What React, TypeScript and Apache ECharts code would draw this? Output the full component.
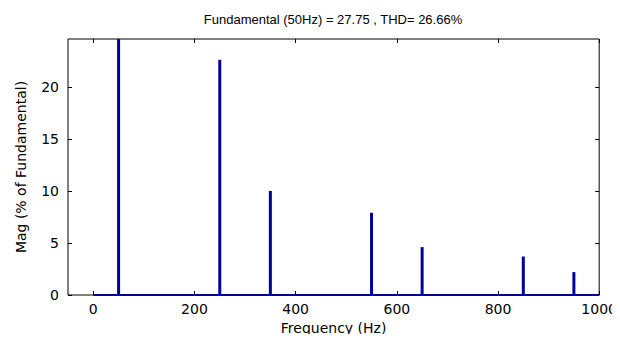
import React, { useEffect, useRef } from "react";
import * as echarts from "echarts";

const titleText = "Fundamental (50Hz) = 27.75 , THD= 26.66%";
const xName = "Frequency (Hz)";
const yName = "Mag (% of Fundamental)";
const frequencies = [50, 250, 350, 550, 650, 850, 950];
const magnitudes = [100, 22.6, 10.0, 7.9, 4.6, 3.7, 2.2];
const baselineX = [0, 1000];
const xTicks = [0, 200, 400, 600, 800, 1000];
const yTicks = [0, 5, 10, 15, 20];

const FONT = "'Liberation Sans', Arial, sans-serif";
const AXFONT = "'DejaVu Sans', sans-serif";
const BLUE = "#00009c";

export default function App() {
  const ref = useRef<HTMLDivElement>(null);
  useEffect(() => {
    if (!ref.current) return;
    const chart = echarts.init(ref.current, undefined, { renderer: "svg" });
    const tickStyle = { inside: true, length: 4, lineStyle: { color: "#000", width: 1 } };
    const fmt = (v: number) => String(v);
    chart.setOption({
      animation: false,
      backgroundColor: "#fff",
      textStyle: { fontFamily: FONT },
      grid: {
        left: 68,
        top: 39,
        right: 19,
        bottom: 47,
        show: true,
        borderColor: "#000",
        borderWidth: 1,
        backgroundColor: "#fff",
      },
      graphic: [
        {
          type: "text",
          x: 333,
          y: 19,
          style: {
            text: titleText,
            fill: "#000",
            font: `13px ${FONT}`,
            textAlign: "center",
            textVerticalAlign: "middle",
          },
        },
      ],
      xAxis: [
        {
          type: "value",
          min: -50,
          max: 1000,
          position: "bottom",
          name: xName,
          nameLocation: "middle",
          nameGap: 25,
          nameTextStyle: { color: "#000", fontSize: 14, fontFamily: AXFONT },
          axisLine: { show: false, onZero: false },
          axisTick: { ...tickStyle, customValues: xTicks },
          axisLabel: { customValues: xTicks, formatter: fmt, color: "#000", fontSize: 14, fontFamily: AXFONT, margin: 7 },
          splitLine: { show: false },
        },
        {
          type: "value",
          min: -50,
          max: 1000,
          position: "top",
          axisLine: { show: false, onZero: false },
          axisTick: { ...tickStyle, customValues: xTicks },
          axisLabel: { show: false, customValues: xTicks },
          splitLine: { show: false },
        },
      ],
      yAxis: [
        {
          type: "value",
          min: 0,
          max: 24.6,
          position: "left",
          name: yName,
          nameLocation: "middle",
          nameGap: 40,
          nameRotate: 90,
          nameTextStyle: { color: "#000", fontSize: 14, fontFamily: AXFONT },
          axisLine: { show: false, onZero: false },
          axisTick: { ...tickStyle, customValues: yTicks },
          axisLabel: { customValues: yTicks, formatter: fmt, color: "#000", fontSize: 14, fontFamily: AXFONT, margin: 9 },
          splitLine: { show: false },
        },
        {
          type: "value",
          min: 0,
          max: 24.6,
          position: "right",
          axisLine: { show: false, onZero: false },
          axisTick: { ...tickStyle, customValues: yTicks },
          axisLabel: { show: false, customValues: yTicks },
          splitLine: { show: false },
        },
      ],
      series: [
        {
          type: "line",
          xAxisIndex: 0,
          yAxisIndex: 0,
          data: baselineX.map((x) => [x, 0]),
          symbol: "none",
          lineStyle: { color: BLUE, width: 2 },
          z: 3,
        },
        {
          type: "bar",
          xAxisIndex: 0,
          yAxisIndex: 0,
          data: frequencies.map((f, i) => [f, magnitudes[i]]),
          barWidth: 3,
          itemStyle: { color: BLUE },
          clip: true,
          z: 4,
        },
      ],
    });
    return () => chart.dispose();
  }, []);
  return <div ref={ref} style={{ width: 620, height: 342, margin: -8 }} />;
}
